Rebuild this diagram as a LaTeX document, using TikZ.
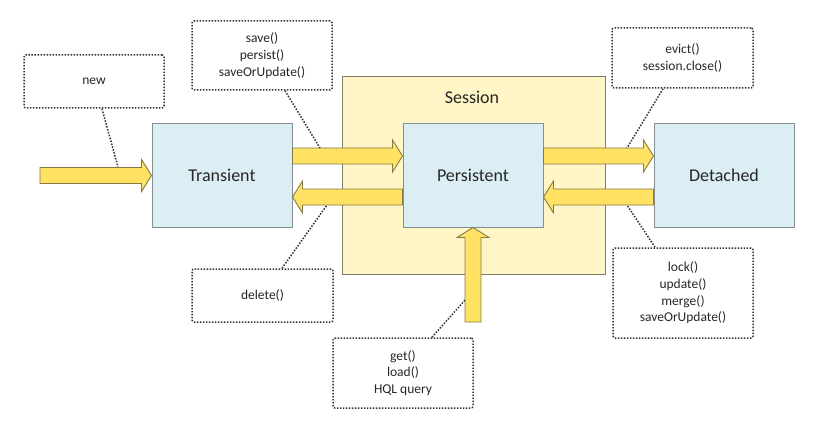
\documentclass[tikz,border=0pt]{standalone}
\usepackage{fontspec}
\setmainfont{Carlito}
\usetikzlibrary{calc}

\definecolor{boxblue}{HTML}{DAEEF3}
\definecolor{boxedge}{HTML}{848E93}
\definecolor{sessfill}{HTML}{FFF5C6}
\definecolor{sessedge}{HTML}{7F7D68}
\definecolor{arrfill}{HTML}{FFE263}
\definecolor{arredge}{HTML}{857A45}
\definecolor{noteedge}{HTML}{303030}
\definecolor{txt}{HTML}{262626}

\tikzset{
  state/.style={draw=boxedge, fill=boxblue, line width=1pt, minimum width=140pt,
    minimum height=103pt, inner sep=0pt, font=\fontsize{18}{21}\selectfont, text=txt},
  session/.style={draw=sessedge, fill=sessfill, line width=1pt, inner sep=0pt},
  note/.style={draw=noteedge, line width=1.5pt, dash pattern=on 1.5pt off 1.5pt,
    rounded corners=2pt, align=center, inner sep=0pt,
    font=\fontsize{13.5}{16.7}\selectfont, text=txt},
  fat/.style={draw=arredge, fill=arrfill, line width=0.9pt, line join=miter},
  leader/.style={draw=noteedge, line width=1.5pt, dash pattern=on 1.5pt off 1.5pt},
}

% horizontal block arrow: #1 start, #2 tip, #3 = 1 (points right) or -1 (points left)
\newcommand\blockarrowh[3]{%
  \draw[fat] (#2) -- ++(-10*#3,-16) -- ++(0,8) -- ($(#1)+(0,-8)$) -- ++(0,16)
    -- ($(#2)+(-10*#3,8)$) -- ++(0,8) -- cycle;}

\begin{document}
\begin{tikzpicture}[x=1pt, y=-1pt]
  \useasboundingbox (0,0) rectangle (814,425);

  % session area and its title
  \node[session, minimum width=263pt, minimum height=197pt] (se) at (473.5,175.5) {};
  \node[font=\fontsize{18}{21}\selectfont, text=txt] (sl) at (472,97) {Session};

  % object states
  \node[state] (tr) at (222,175.5) {Transient};
  \node[state] (pe) at (473,175.5) {Persistent};
  \node[state] (de) at (724,175.5) {Detached};

  % method notes
  \node[note, minimum width=140pt, minimum height=53pt] (newn) at (94,81.5) {new};
  \node[note, minimum width=140pt, minimum height=69pt] (savn) at (262,55.5)
    {save()\\persist()\\saveOrUpdate()};
  \node[note, minimum width=141pt, minimum height=60pt] (evn) at (682.5,58)
    {evict()\\session.close()};
  \node[note, minimum width=141pt, minimum height=53pt] (deln) at (262.5,295.5) {delete()};
  \node[note, minimum width=140pt, minimum height=70pt] (getn) at (403,373)
    {get()\\load()\\HQL query};
  \node[note, minimum width=140pt, minimum height=90pt] (lockn) at (683,293)
    {lock()\\update()\\merge()\\saveOrUpdate()};

  % transitions
  \coordinate (newstart) at (40,175.5);
  \blockarrowh{newstart}{tr.west}{1}
  \blockarrowh{$(tr.east)+(0,-19.5)$}{$(pe.west)+(0,-19.5)$}{1}
  \blockarrowh{$(pe.west)+(0,21.5)$}{$(tr.east)+(0,21.5)$}{-1}
  \blockarrowh{$(pe.east)+(0,-19.5)$}{$(de.west)+(0,-19.5)$}{1}
  \blockarrowh{$(de.west)+(0,21.5)$}{$(pe.east)+(0,21.5)$}{-1}

  % loading from the database
  \coordinate (getstart) at (473,322);
  \draw[fat] (pe.south) -- ++(16,10) -- ++(-8,0) -- ($(getstart)+(8,0)$) -- ++(-16,0)
    -- ($(pe.south)+(-8,10)$) -- ++(-8,0) -- cycle;

  % leader lines from notes to transitions
  \coordinate (k1) at (118,167);
  \coordinate (k2) at (320,148);
  \coordinate (k3) at (627,148);
  \coordinate (k4) at (327,205);
  \coordinate (k5) at (465,300);
  \coordinate (k6) at (627,205);
  \draw[leader] ($(newn.south)+(8,0)$) -- (k1);
  \draw[leader] ($(savn.south)+(23,0)$) -- (k2);
  \draw[leader] ($(evn.south)+(-19.5,0)$) -- (k3);
  \draw[leader] ($(deln.north)+(19.5,0)$) -- (k4);
  \draw[leader] ($(getn.north)+(29,0)$) -- (k5);
  \draw[leader] ($(lockn.north)+(-28,0)$) -- (k6);
\end{tikzpicture}
\end{document}
